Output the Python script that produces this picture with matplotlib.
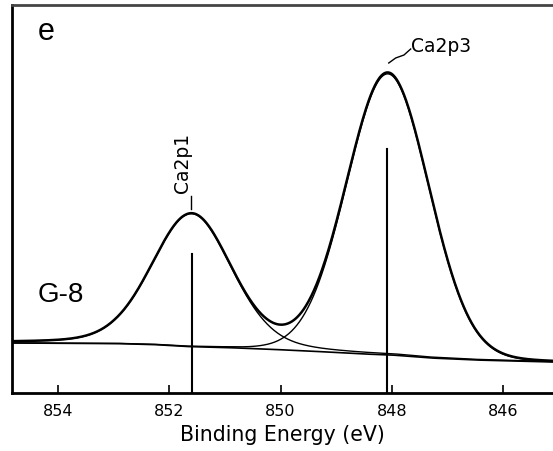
import matplotlib
matplotlib.use("Agg")
import matplotlib.pyplot as plt
import numpy as np

# fitted Ca 2p components
peak_names = ["Ca2p1", "Ca2p3"]
peak_centers = [851.60, 848.07]   # eV
peak_heights = [133, 281]         # counts above background (arb.)
peak_fwhm = [1.69, 1.74]          # eV
peak_lorentz = [0.2, 0.03]        # Lorentzian fraction

# Shirley-like background
bg_energy = [854.83, 853.0, 852.3, 851.7, 851.0, 850.3, 849.5, 848.5, 848.0, 847.3, 846.5, 845.10]
bg_counts = [50, 49.5, 48.5, 46.5, 45.5, 44, 42, 39, 38, 35, 33, 31]

# reference marker lines
marker_pos = [851.60, 848.09]
marker_top = [139, 244]

xticks = [854, 852, 850, 848, 846]


def pseudo_voigt(x, c, h, w, m):
    hw = w / 2.0
    g = np.exp(-np.log(2) * ((x - c) / hw) ** 2)
    l = 1.0 / (1.0 + ((x - c) / hw) ** 2)
    return h * ((1 - m) * g + m * l)


energy = np.linspace(854.83, 845.10, 800)
background = np.interp(energy, bg_energy[::-1], bg_counts[::-1])
components = [pseudo_voigt(energy, c, h, w, m)
              for c, h, w, m in zip(peak_centers, peak_heights, peak_fwhm, peak_lorentz)]
envelope = background + sum(components)

fig = plt.figure(figsize=(5.53, 4.51), dpi=100)
ax = fig.add_axes([12 / 553, 58 / 451, 541 / 553, 388 / 451])

ax.plot(energy, background, color="black", lw=1.2)
for comp in components:
    ax.plot(energy, background + comp, color="black", lw=1.0)
ax.plot(energy, envelope, color="black", lw=1.8)

for xp, yt in zip(marker_pos, marker_top):
    ax.plot([xp, xp], [0, yt], color="black", lw=1.5)

ax.set_xlim(854.83, 845.10)
ax.set_ylim(0, 388)
ax.set_xticks(xticks)
ax.set_yticks([])
ax.tick_params(axis="x", direction="in", length=6, width=1.2, labelsize=11.5, pad=8)
for s in ["left", "bottom", "top"]:
    ax.spines[s].set_linewidth(2)
ax.spines["top"].set_color("#444444")
ax.spines["right"].set_visible(False)
ax.set_xlabel("Binding Energy (eV)", fontsize=14.8, labelpad=4.5)

# peak labels
ax.text(851.77, 200, "Ca2p1", rotation=90, fontsize=13.5, ha="center", va="bottom")
ax.plot([851.61, 851.61], [184, 197], color="black", lw=1)
ax.text(847.66, 346, "Ca2p3", fontsize=13.5, ha="left", va="center")
ax.plot([848.054, 847.93, 847.78, 847.66], [330, 335, 338, 344], color="black", lw=1)

ax.text(0.047, 0.91, "e", transform=ax.transAxes, fontsize=22, family="Liberation Sans",
        ha="left", va="baseline")
ax.text(0.047, 0.2345, "G-8", transform=ax.transAxes, fontsize=20, family="Liberation Sans",
        ha="left", va="baseline")

fig.savefig("out.png", dpi=100)
